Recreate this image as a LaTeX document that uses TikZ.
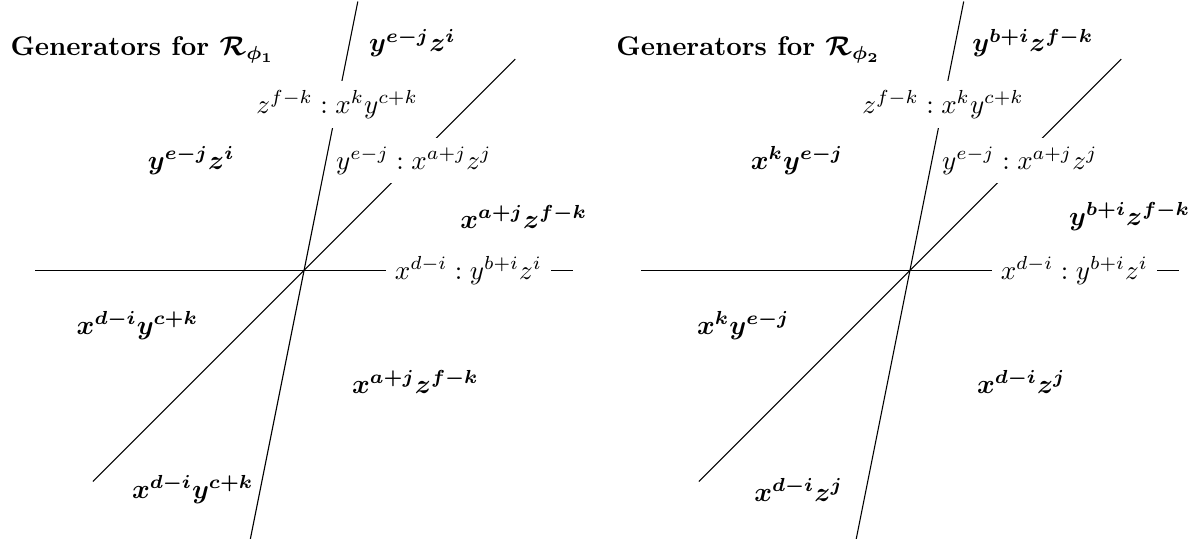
\documentclass[tikz,border=0pt]{standalone}
\usepackage{amsmath}
\usepackage{amssymb}
\usepackage{tikz}
\usetikzlibrary{calc}

\tikzset{
    wall/.style={fill=white},
    gen/.style={inner sep=2pt},
    heading/.style={anchor=base west, inner sep=0pt, font=\bfseries\boldmath}
}

\begin{document}
\begin{tikzpicture}
    \useasboundingbox (-3.96,-3.49) rectangle (11.68,3.52);

    % Arrangement for phi_1
    \draw (-3.5,0) -- (3.5,0);
    \draw (-2.75,-2.75) -- (2.75,2.75);
    \node [wall] (dA) at (1.43,1.43) {$y^{e-j}:x^{a+j}z^j$};
    \draw (-0.7,-3.5) -- (0.7,3.5);
    \node [wall] (sA) at (0.43,2.16) {$z^{f-k}:x^ky^{c+k}$};
    \node [wall] (hA) at (2.14,0) {$x^{d-i}:y^{b+i}z^i$};

    \node [heading] (tA) at (-3.83,2.80) {Generators for $\mathcal{R}_{\phi_1}$};
    \node [gen] (gA1) at (1.41,2.96) {$\boldsymbol{y^{e-j}z^i}$};
    \node [gen] (gA2) at (-1.47,1.43) {$\boldsymbol{y^{e-j}z^i}$};
    \node [gen] (gA3) at (2.86,0.70) {$\boldsymbol{x^{a+j}z^{f-k}}$};
    \node [gen] (gA4) at (-2.17,-0.72) {$\boldsymbol{x^{d-i}y^{c+k}}$};
    \node [gen] (gA5) at (-1.45,-2.86) {$\boldsymbol{x^{d-i}y^{c+k}}$};
    \node [gen] (gA6) at (1.45,-1.45) {$\boldsymbol{x^{a+j}z^{f-k}}$};

    % Arrangement for phi_2
    \begin{scope}[xshift=7.89cm]
        \draw (-3.5,0) -- (3.5,0);
        \draw (-2.75,-2.75) -- (2.75,2.75);
        \node [wall] (dB) at (1.43,1.43) {$y^{e-j}:x^{a+j}z^j$};
        \draw (-0.7,-3.5) -- (0.7,3.5);
        \node [wall] (sB) at (0.43,2.16) {$z^{f-k}:x^ky^{c+k}$};
        \node [wall] (hB) at (2.14,0) {$x^{d-i}:y^{b+i}z^i$};

        \node [heading] (tB) at (-3.83,2.80) {Generators for $\mathcal{R}_{\phi_2}$};
        \node [gen] (gB1) at (1.6,2.96) {$\boldsymbol{y^{b+i}z^{f-k}}$};
        \node [gen] (gB2) at (-1.47,1.43) {$\boldsymbol{x^ky^{e-j}}$};
        \node [gen] (gB3) at (2.86,0.70) {$\boldsymbol{y^{b+i}z^{f-k}}$};
        \node [gen] (gB4) at (-2.17,-0.72) {$\boldsymbol{x^ky^{e-j}}$};
        \node [gen] (gB5) at (-1.45,-2.86) {$\boldsymbol{x^{d-i}z^j}$};
        \node [gen] (gB6) at (1.45,-1.45) {$\boldsymbol{x^{d-i}z^j}$};
    \end{scope}
\end{tikzpicture}
\end{document}
